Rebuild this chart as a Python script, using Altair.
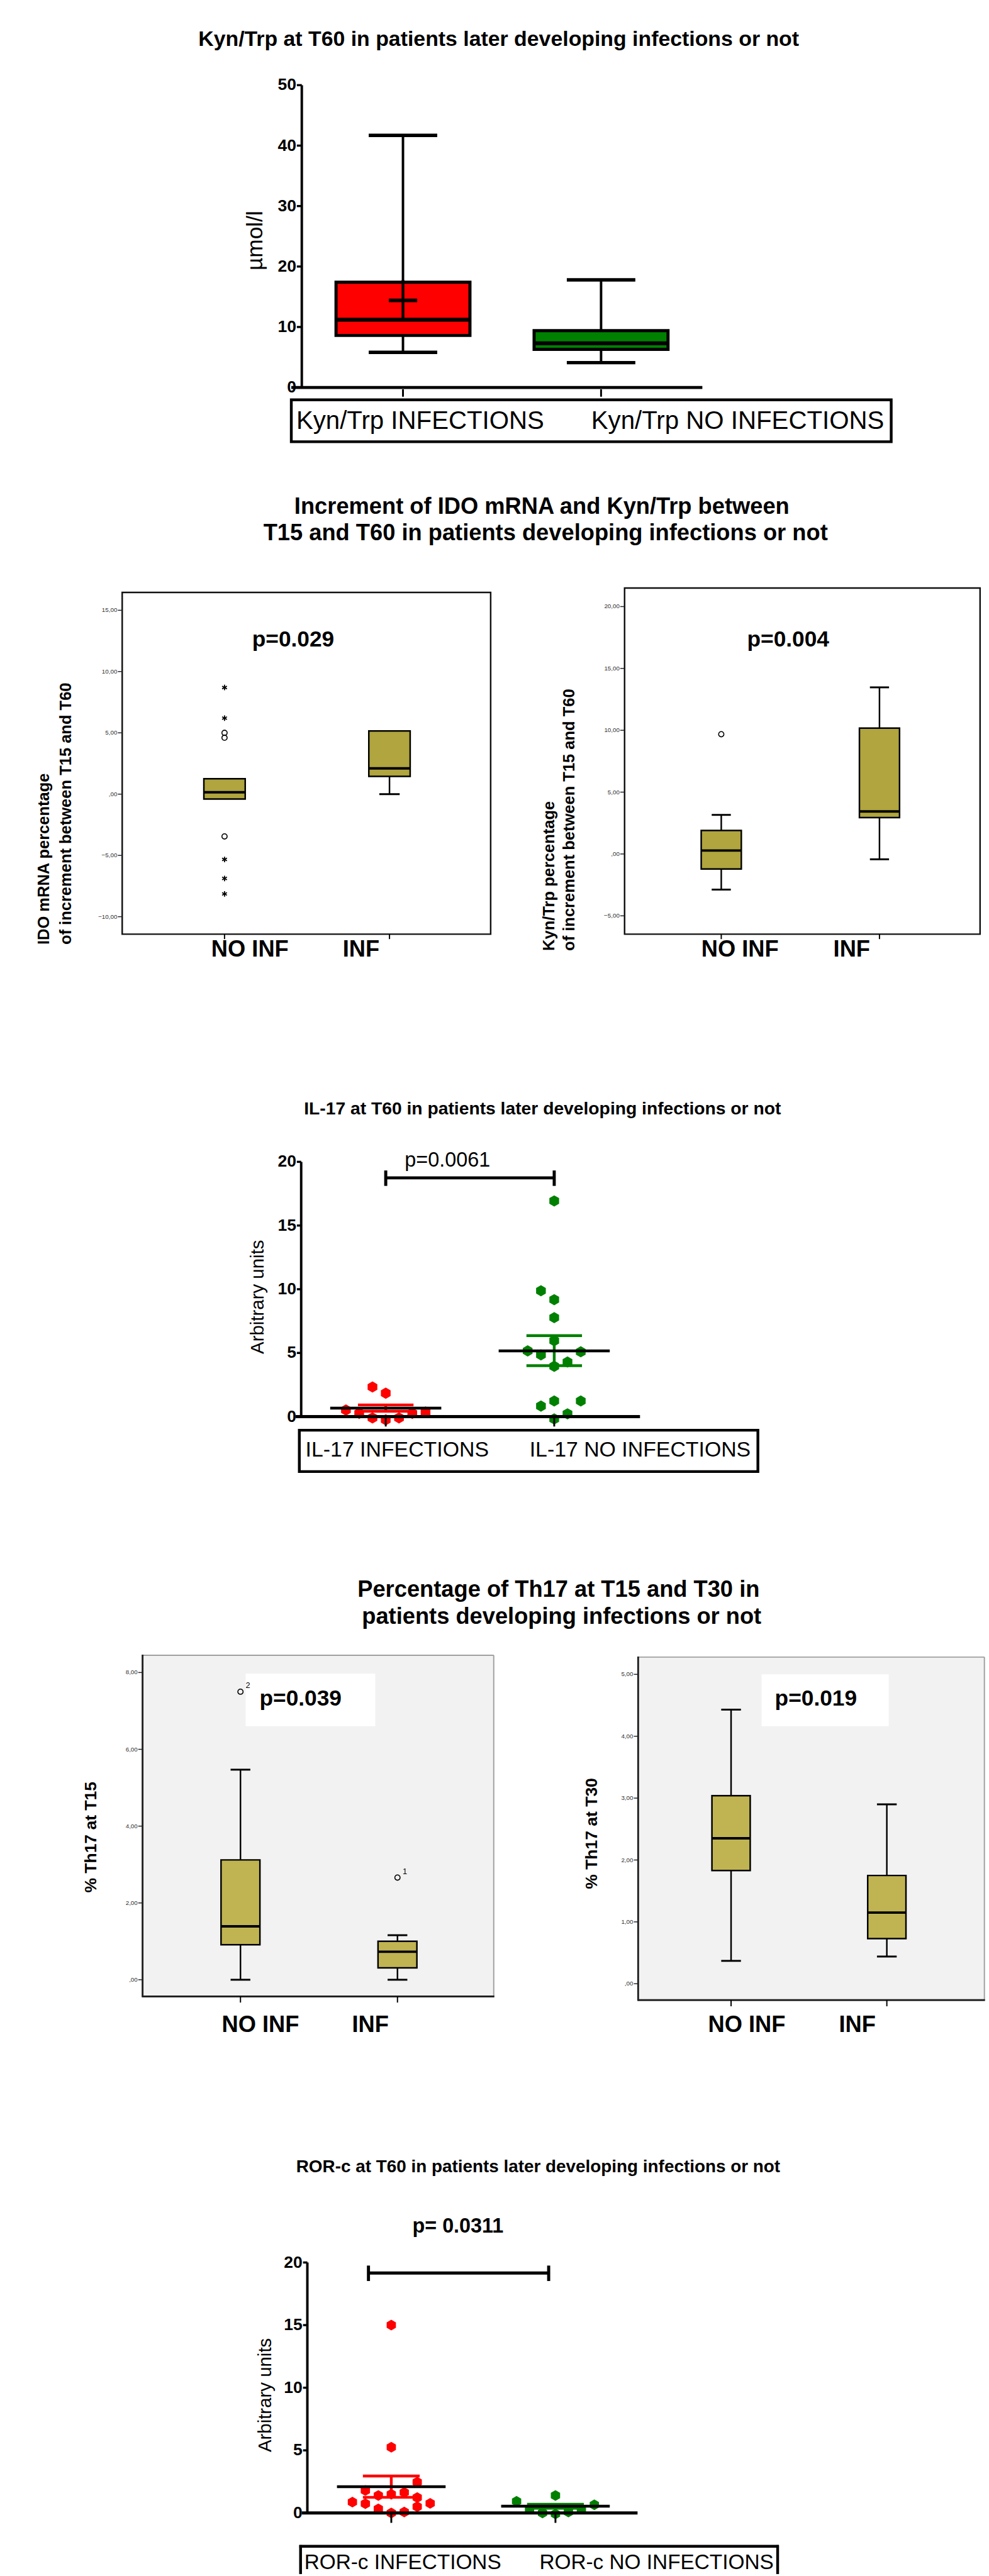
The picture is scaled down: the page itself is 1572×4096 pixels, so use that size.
import altair as alt
import pandas as pd

S = 0.981
SANS = "Liberation Sans, Arial, Helvetica, sans-serif"
RED = "#ff0000"
GREEN = "#008000"
OLIVE_A = "#B0A53E"
OLIVE_B = "#C0B452"
PANEL_BG = "#F2F2F2"
HEX = "M0,-1L0.866,-0.5L0.866,0.5L0,1L-0.866,0.5L-0.866,-0.5Z"
STAR = "M0,-1L0,1M-0.866,-0.5L0.866,0.5M-0.866,0.5L0.866,-0.5"

# ------------------------------------------------------------------ data
# Panel 1: Kyn/Trp at T60 (umol/l) - box and whiskers
kyn_groups = ["Kyn/Trp INFECTIONS", "Kyn/Trp NO INFECTIONS"]
kyn_min = [5.8, 4.1]
kyn_q1 = [8.6, 6.3]
kyn_med = [11.2, 7.3]
kyn_q3 = [17.4, 9.4]
kyn_max = [41.7, 17.8]
kyn_mean = [14.4]          # "+" only drawn for INFECTIONS
kyn_ticks = [0, 10, 20, 30, 40, 50]

# Panel 2: increment between T15 and T60
inc_groups = ["NO INF", "INF"]
ido_min = [-0.4, 0.0]
ido_q1 = [-0.4, 1.45]
ido_med = [0.15, 2.1]
ido_q3 = [1.25, 5.15]
ido_max = [1.25, 5.15]
ido_out_circle = [5.0, 4.6, -3.45]              # NO INF outliers
ido_out_star = [8.7, 6.2, -5.33, -6.88, -8.14]  # NO INF extremes
ido_ticks = [-10, -5, 0, 5, 10, 15]

kt_min = [-2.88, -0.43]
kt_q1 = [-1.21, 2.94]
kt_med = [0.28, 3.44]
kt_q3 = [1.9, 10.17]
kt_max = [3.16, 13.47]
kt_out_circle = [9.68]                           # NO INF outlier
kt_ticks = [-5, 0, 5, 10, 15, 20]

# Panel 3: IL-17 at T60 (arbitrary units)
il17_groups = ["IL-17 INFECTIONS", "IL-17 NO INFECTIONS"]
il17_inf = [2.33, 1.84, 0.52, 0.26, -0.1, -0.25, -0.1, 0.26, 0.36]
il17_inf_slot = [-1, 0, -3, -2, -1, 0, 1, 2, 3]
il17_no = [16.93, 9.88, 9.18, 7.77, 5.96, 5.16, 4.85, 5.09, 3.95, 4.29, 0.83, 1.23, 1.23, -0.18, 0.22]
il17_no_slot = [0, -1, 0, 0, 0, -2, -1, 2, 0, 1, -1, 0, 2, 0, 1]
il17_mean = [0.67, 5.16]
il17_sem_lo = [0.42, 4.0]
il17_sem_hi = [0.92, 6.36]
dot_ticks = [0, 5, 10, 15, 20]

# Panel 4: % Th17 at T15 / T30
th15_min = [0.0, 0.0]
th15_q1 = [0.91, 0.31]
th15_med = [1.39, 0.73]
th15_q3 = [3.12, 1.0]
th15_max = [5.47, 1.16]
th15_out = [7.5, 2.66]
th15_out_group = [0, 1]
th15_out_label = ["2", "1"]
th15_ticks = [0, 2, 4, 6, 8]

th30_min = [0.37, 0.44]
th30_q1 = [1.83, 0.73]
th30_med = [2.35, 1.15]
th30_q3 = [3.04, 1.75]
th30_max = [4.43, 2.9]
th30_ticks = [0, 1, 2, 3, 4, 5]

# Panel 5: ROR-c at T60 (arbitrary units)
ror_groups = ["ROR-c INFECTIONS", "ROR-c NO INFECTIONS"]
ror_inf = [15.0, 5.25, 2.46, 1.8, 1.4, 1.5, 1.64, 1.23, 0.87, 0.74, 0.33, 0.0, 0.08, 0.5, 0.77]
ror_inf_slot = [0, 0, 2, -2, -1, 0, 1, 2, -3, -2, -1, 0, 1, 2, 3]
ror_no = [0.93, 1.4, 0.65, 0.33, 0.0, -0.08, 0.08, 0.33]
ror_no_slot = [-3, 0, 3, -2, -1, 0, 1, 2]
ror_mean = [2.1, 0.54]
ror_sem_lo = [1.25, 0.38]
ror_sem_hi = [2.95, 0.7]


# ------------------------------------------------------------------ helpers
def lin(v1, p1, v2, p2):
    k = (v2 - v1) / (p2 - p1)
    return lambda p: v1 + (p - p1) * k


class Panel:
    """One panel drawn inside a full-width row; positions in reference pixels."""
    def __init__(self, top, bottom, xmap, ymap, left=0, right=1602):
        self.l, self.r, self.t, self.b = left, right, top, bottom
        fx, fy = lin(*xmap), lin(*ymap)
        self.xdom = [fx(left), fx(right)]
        self.ydom = [fy(bottom), fy(top)]
        self.W = (right - left) * S
        self.H = (bottom - top) * S
        self.layers = []

    def X(self, f):
        return alt.X(field=f, type="quantitative",
                     scale=alt.Scale(domain=self.xdom, nice=False, zero=False), axis=None)

    def Y(self, f):
        return alt.Y(field=f, type="quantitative",
                     scale=alt.Scale(domain=self.ydom, nice=False, zero=False), axis=None)

    def px(self, x):
        return (x - self.l) * S

    def py(self, y):
        return (y - self.t) * S

    def add(self, *items):
        for it in items:
            if isinstance(it, list):
                self.layers.extend(it)
            else:
                self.layers.append(it)

    def layer(self):
        return alt.layer(*self.layers)

    def chart(self):
        return alt.layer(*self.layers).properties(width=self.W, height=self.H)


def combo(Pa, Pb):
    return alt.layer(Pa.layer(), Pb.layer()).resolve_scale(
        x="independent", y="independent").properties(width=Pa.W, height=Pa.H)


def T(P, s, x, y, size, weight="normal", align="center", angle=0, color="black"):
    kw = dict(font=SANS, fontSize=size * S, fontWeight=weight, align=align,
              baseline="middle", color=color)
    if angle:
        kw["angle"] = angle
    return alt.Chart().mark_text(**kw).encode(
        x=alt.value(P.px(x)), y=alt.value(P.py(y)), text=alt.value(s))


def RECT(P, x1, y1, x2, y2, fill="white", fill_op=1.0, stroke="black", sw=0.0):
    kw = dict(fill=fill, fillOpacity=fill_op, stroke=stroke, strokeWidth=sw * S)
    return alt.Chart().mark_rect(**kw).encode(
        x=alt.value(P.px(x1)), x2=alt.value(P.px(x2)),
        y=alt.value(P.py(y1)), y2=alt.value(P.py(y2)))


def HL(P, x1, x2, y, color="black", sw=2.0):
    return alt.Chart().mark_rule(color=color, strokeWidth=sw * S).encode(
        x=alt.value(P.px(x1)), x2=alt.value(P.px(x2)), y=alt.value(P.py(y)))


def VLINE(P, x, y1, y2, color="black", sw=2.0):
    return alt.Chart().mark_rule(color=color, strokeWidth=sw * S).encode(
        x=alt.value(P.px(x)), y=alt.value(P.py(y1)), y2=alt.value(P.py(y2)))


def HLv(P, x1, x2, v, color="black", sw=2.0):
    return alt.Chart(pd.DataFrame({"v": [v]})).mark_rule(color=color, strokeWidth=sw * S).encode(
        x=alt.value(P.px(x1)), x2=alt.value(P.px(x2)), y=P.Y("v"))


def xticks(P, n, y1, y2, sw, color="black"):
    df = pd.DataFrame({"g": list(range(n))})
    return alt.Chart(df).mark_rule(color=color, strokeWidth=sw * S).encode(
        x=P.X("g"), y=alt.value(P.py(y1)), y2=alt.value(P.py(y2)))


def gp_yaxis(P, axis_x, vals, lw=4.0, tick=8, size=27):
    rng = pd.DataFrame({"lo": [min(vals)], "hi": [max(vals)]})
    tk = pd.DataFrame({"v": vals})
    line = alt.Chart(rng).mark_rule(color="black", strokeWidth=lw * S).encode(
        x=alt.value(P.px(axis_x)), y=P.Y("lo"), y2="hi")
    ticks = alt.Chart(tk).mark_rule(color="black", strokeWidth=3.5 * S).encode(
        x=alt.value(P.px(axis_x - tick)), x2=alt.value(P.px(axis_x)), y=P.Y("v"))
    labels = alt.Chart(tk).mark_text(font=SANS, fontSize=size * S, fontWeight="bold",
                                     align="right", baseline="middle", color="black").encode(
        x=alt.value(P.px(axis_x - tick - 1)), y=P.Y("v"), text=alt.Text("v:Q", format="d"))
    return [line, ticks, labels]


def spss_yaxis(P, axis_x, vals):
    tk = pd.DataFrame({"v": vals})
    ticks = alt.Chart(tk).mark_rule(color="#222222", strokeWidth=1.5 * S).encode(
        x=alt.value(P.px(axis_x - 7)), x2=alt.value(P.px(axis_x)), y=P.Y("v"))
    labels = alt.Chart(tk).transform_calculate(
        lab="datum.v == 0 ? ',00' : replace(format(datum.v, '.2f'), '.', ',')").mark_text(
        font=SANS, fontSize=10 * S, align="right", baseline="middle", color="#333333").encode(
        x=alt.value(P.px(axis_x - 8)), y=P.Y("v"), text="lab:N")
    return [ticks, labels]


def boxes(P, lo, q1, med, q3, hi, width, fills, sw, medw, capw, capsw, whw):
    n = len(q1)
    df = pd.DataFrame({"g": list(range(n)), "lo": lo, "q1": q1,
                       "med": med, "q3": q3, "hi": hi})
    base = alt.Chart(df)
    up = base.transform_filter("datum.hi > datum.q3").mark_rule(
        color="black", strokeWidth=whw * S).encode(x=P.X("g"), y=P.Y("q3"), y2="hi")
    dn = base.transform_filter("datum.lo < datum.q1").mark_rule(
        color="black", strokeWidth=whw * S).encode(x=P.X("g"), y=P.Y("lo"), y2="q1")
    capu = base.transform_filter("datum.hi > datum.q3").mark_tick(
        orient="horizontal", size=capw * S, thickness=capsw * S, color="black",
        opacity=1).encode(x=P.X("g"), y=P.Y("hi"))
    capd = base.transform_filter("datum.lo < datum.q1").mark_tick(
        orient="horizontal", size=capw * S, thickness=capsw * S, color="black",
        opacity=1).encode(x=P.X("g"), y=P.Y("lo"))
    out = [up, dn, capu, capd]
    for i in range(n):
        out.append(base.transform_filter(f"datum.g == {i}").mark_bar(
            orient="vertical", size=width * S, fill=fills[i], stroke="black",
            strokeWidth=sw * S, opacity=1).encode(x=P.X("g"), y=P.Y("q1"), y2="q3"))
    out.append(base.mark_tick(orient="horizontal", size=width * S, thickness=medw * S,
                              color="black", opacity=1).encode(x=P.X("g"), y=P.Y("med")))
    return out


def dots(P, vals, slots, g, color, slotw, size):
    df = pd.DataFrame({"v": vals, "slot": slots})
    df["g"] = g
    return alt.Chart(df).transform_calculate(
        xj=f"datum.g + datum.slot * {slotw}").mark_point(
        shape=HEX, filled=True, size=size, color=color, opacity=1, strokeWidth=0).encode(
        x=P.X("xj"), y=P.Y("v"))


def meansem(P, mean, lo, hi, meanw, semw, colors, lw):
    n = len(mean)
    df = pd.DataFrame({"g": list(range(n)), "m": mean, "lo": lo, "hi": hi})
    base = alt.Chart(df)
    out = []
    for i in range(n):
        b = base.transform_filter(f"datum.g == {i}")
        out.append(b.mark_rule(strokeWidth=lw * S, color=colors[i]).encode(
            x=P.X("g"), y=P.Y("lo"), y2="hi"))
        out.append(b.mark_tick(orient="horizontal", size=semw * S, thickness=lw * S,
                               color=colors[i], opacity=1).encode(x=P.X("g"), y=P.Y("hi")))
        out.append(b.mark_tick(orient="horizontal", size=semw * S, thickness=lw * S,
                               color=colors[i], opacity=1).encode(x=P.X("g"), y=P.Y("lo")))
    return out


def meanline(P, mean, meanw, lw):
    df = pd.DataFrame({"g": list(range(len(mean))), "m": mean})
    return alt.Chart(df).mark_tick(orient="horizontal", size=meanw * S, thickness=lw * S,
                                   color="black", opacity=1).encode(x=P.X("g"), y=P.Y("m"))


def outliers(P, vals, g, kind):
    df = pd.DataFrame({"v": vals})
    df["g"] = g
    if kind == "star":
        mk = alt.Chart(df).mark_point(shape=STAR, filled=False, stroke="black",
                                      strokeWidth=1.8 * S, size=(9 * S) ** 2, opacity=1)
    else:
        mk = alt.Chart(df).mark_point(shape="circle", filled=False, stroke="black",
                                      strokeWidth=1.6 * S, size=(8.5 * S) ** 2, opacity=1)
    return mk.encode(x=P.X("g"), y=P.Y("v"))


# ------------------------------------------------------------------ Row 1: Kyn/Trp
P1 = Panel(0, 745, (0, 652, 1, 975), (0, 628, 50, 138))
P1.add(
    T(P1, "Kyn/Trp at  T60 in patients later developing infections or not", 808, 64, 34.5, weight="bold"),
    boxes(P1, kyn_min, kyn_q1, kyn_med, kyn_q3, kyn_max, 217, [RED, GREEN], 5, 6.5, 111, 5.5, 4),
    alt.Chart(pd.DataFrame({"m": kyn_mean, "g": [0]})).mark_tick(
        orient="horizontal", size=46 * S, thickness=6 * S, color="black", opacity=1).encode(
        x=P1.X("g"), y=P1.Y("m")),
    alt.Chart(pd.DataFrame({"m": kyn_mean, "g": [0]})).mark_tick(
        orient="vertical", size=66 * S, thickness=4.5 * S, color="black", opacity=1).encode(
        x=P1.X("g"), y=P1.Y("m")),
    gp_yaxis(P1, 489, kyn_ticks, 4),
    HLv(P1, 472, 1138, 0, sw=5),
    xticks(P1, 2, 631, 643, 3),
    T(P1, "µmol/l", 414, 390, 36, angle=270),
    RECT(P1, 472, 648, 1444, 716, fill_op=0, sw=4.5),
    T(P1, kyn_groups[0], 480, 683, 41, align="left"),
    T(P1, kyn_groups[1], 958, 683, 41, align="left"),
)

# ------------------------------------------------------------------ Row 2: increments
P2a = Panel(745, 1640, (0, 361, 1, 630), (0, 1287, 15, 989))
P2a.add(
    T(P2a, "Increment of IDO mRNA and Kyn/Trp between", 878, 821, 37, weight="bold"),
    T(P2a, "T15 and T60 in patients developing infections or not", 884, 864, 37, weight="bold"),
    RECT(P2a, 198, 960, 795, 1514, fill_op=0, stroke="#111111", sw=2.5),
    spss_yaxis(P2a, 198, ido_ticks),
    xticks(P2a, 2, 1514, 1522, 2),
    boxes(P2a, ido_min, ido_q1, ido_med, ido_q3, ido_max, 67, [OLIVE_A, OLIVE_A], 2.5, 4, 33, 3, 2.5),
    outliers(P2a, ido_out_circle, 0, "circle"),
    outliers(P2a, ido_out_star, 0, "star"),
    T(P2a, "p=0.029", 475, 1037, 36, weight="bold"),
    T(P2a, inc_groups[0], 405, 1539, 37, weight="bold"),
    T(P2a, inc_groups[1], 585, 1539, 37, weight="bold"),
    T(P2a, "IDO mRNA percentage", 71, 1531, 26, weight="bold", align="left", angle=270),
    T(P2a, "of increment between T15 and T60", 107, 1531, 26, weight="bold", align="left", angle=270),
)

P2b = Panel(745, 1640, (0, 1171, 1, 1429), (0, 1384, 20, 983))
P2b.add(
    RECT(P2b, 1012, 953, 1588, 1514, fill_op=0, stroke="#111111", sw=2.5),
    spss_yaxis(P2b, 1012, kt_ticks),
    xticks(P2b, 2, 1514, 1522, 2),
    boxes(P2b, kt_min, kt_q1, kt_med, kt_q3, kt_max, 65, [OLIVE_A, OLIVE_A], 2.5, 4, 31, 3, 2.5),
    outliers(P2b, kt_out_circle, 0, "circle"),
    T(P2b, "p=0.004", 1277, 1037, 36, weight="bold"),
    T(P2b, inc_groups[0], 1199, 1539, 37, weight="bold"),
    T(P2b, inc_groups[1], 1380, 1539, 37, weight="bold"),
    T(P2b, "Kyn/Trp percentage", 890, 1541, 26, weight="bold", align="left", angle=270),
    T(P2b, "of increment between T15 and T60", 923, 1541, 26, weight="bold", align="left", angle=270),
)

# ------------------------------------------------------------------ Row 3: IL-17
P3 = Panel(1640, 2520, (0, 625, 1, 898), (0, 2296, 20, 1883))
slot3 = 21.5 / (898 - 625)
P3.add(
    T(P3, "IL-17 at  T60 in patients later developing infections or not", 879, 1798, 28.8, weight="bold"),
    meansem(P3, il17_mean, il17_sem_lo, il17_sem_hi, 180, 90, [RED, GREEN], 4.5),
    dots(P3, il17_inf, il17_inf_slot, 0, RED, slot3, 330 * S * S),
    dots(P3, il17_no, il17_no_slot, 1, GREEN, slot3, 330 * S * S),
    meanline(P3, il17_mean, 180, 4.5),
    gp_yaxis(P3, 488, dot_ticks, 4, tick=7),
    HLv(P3, 479, 1037, 0, sw=5),
    xticks(P3, 2, 2298, 2312, 3),
    T(P3, "Arbitrary units", 418, 2102, 30, angle=270),
    HL(P3, 625, 898, 1909, sw=5),
    VLINE(P3, 625, 1897, 1922, sw=5),
    VLINE(P3, 898, 1897, 1922, sw=5),
    T(P3, "p=0.0061", 725, 1881, 33),
    RECT(P3, 485, 2318, 1228, 2385, fill_op=0, sw=4.5),
    T(P3, il17_groups[0], 495, 2351, 34.5, align="left"),
    T(P3, il17_groups[1], 858, 2351, 34.5, align="left"),
)

# ------------------------------------------------------------------ Row 4: Th17
P4a = Panel(2520, 3430, (0, 387, 1, 643), (0, 3208, 8, 2710))
P4a.add(
    T(P4a, "Percentage of Th17 at T15 and T30 in", 905, 2576, 37, weight="bold"),
    T(P4a, "patients developing infections or not", 910, 2620, 37, weight="bold"),
    RECT(P4a, 231, 2682, 800, 3235, fill=PANEL_BG, sw=0),
    HL(P4a, 231, 800, 2682, color="#A0A0A0", sw=2),
    VLINE(P4a, 800, 2682, 3235, color="#A0A0A0", sw=2),
    VLINE(P4a, 231, 2681, 3236, color="#222222", sw=3),
    HL(P4a, 230, 801, 3235, color="#222222", sw=3),
    RECT(P4a, 398, 2712, 608, 2797, fill="white", sw=0),
    spss_yaxis(P4a, 231, th15_ticks),
    xticks(P4a, 2, 3235, 3245, 2),
    boxes(P4a, th15_min, th15_q1, th15_med, th15_q3, th15_max, 63, [OLIVE_B, OLIVE_B], 2.5, 4, 32, 3, 2.5),
    outliers(P4a, th15_out, th15_out_group, "circle"),
    alt.Chart(pd.DataFrame({"v": th15_out, "g": th15_out_group, "lab": th15_out_label})).mark_text(
        font=SANS, fontSize=13 * S, dx=12 * S, dy=-10 * S, color="black").encode(
        x=P4a.X("g"), y=P4a.Y("v"), text="lab:N"),
    T(P4a, "p=0.039", 487, 2752, 36, weight="bold"),
    T(P4a, inc_groups[0], 422, 3281, 37, weight="bold"),
    T(P4a, inc_groups[1], 600, 3281, 37, weight="bold"),
    T(P4a, "% Th17 at T15", 148, 2977, 27, weight="bold", angle=270),
)

P4b = Panel(2520, 3430, (0, 1187, 1, 1441), (0, 3214.5, 5, 2713))
P4b.add(
    RECT(P4b, 1034, 2685, 1595, 3241, fill=PANEL_BG, sw=0),
    HL(P4b, 1034, 1595, 2685, color="#A0A0A0", sw=2),
    VLINE(P4b, 1595, 2685, 3241, color="#A0A0A0", sw=2),
    VLINE(P4b, 1034, 2684, 3242, color="#222222", sw=3),
    HL(P4b, 1033, 1596, 3241, color="#222222", sw=3),
    RECT(P4b, 1234, 2713, 1440, 2797, fill="white", sw=0),
    spss_yaxis(P4b, 1034, th30_ticks),
    xticks(P4b, 2, 3241, 3251, 2),
    boxes(P4b, th30_min, th30_q1, th30_med, th30_q3, th30_max, 62, [OLIVE_B, OLIVE_B], 2.5, 4, 32, 3, 2.5),
    T(P4b, "p=0.019", 1322, 2752, 36, weight="bold"),
    T(P4b, inc_groups[0], 1210, 3281, 37, weight="bold"),
    T(P4b, inc_groups[1], 1389, 3281, 37, weight="bold"),
    T(P4b, "% Th17 at T30", 959, 2971, 27, weight="bold", angle=270),
)

# ------------------------------------------------------------------ Row 5: ROR-c
P5 = Panel(3430, 4175, (0, 634, 1, 900), (0, 4072, 20, 3666))
slot5 = 21.0 / (900 - 634)
P5.add(
    T(P5, "ROR-c at  T60 in patients later developing infections or not", 872, 3512, 28.4, weight="bold"),
    meansem(P5, ror_mean, ror_sem_lo, ror_sem_hi, 176, 92, [RED, GREEN], 4.5),
    dots(P5, ror_inf, ror_inf_slot, 0, RED, slot5, 300 * S * S),
    dots(P5, ror_no, ror_no_slot, 1, GREEN, slot5, 300 * S * S),
    meanline(P5, ror_mean, 176, 4.5),
    gp_yaxis(P5, 498, dot_ticks, 4, tick=7),
    HLv(P5, 489, 1033, 0, sw=5),
    xticks(P5, 2, 4074, 4088, 3),
    T(P5, "Arbitrary units", 430, 3881, 30, angle=270),
    HL(P5, 597, 889, 3683, sw=5),
    VLINE(P5, 597, 3671, 3696, sw=5),
    VLINE(P5, 889, 3671, 3696, sw=5),
    T(P5, "p= 0.0311", 742, 3607, 33, weight="bold"),
    HL(P5, 485, 1262, 4126, sw=4.5),
    VLINE(P5, 487, 4124, 4171, sw=4.5),
    VLINE(P5, 1260, 4124, 4171, sw=4.5),
    T(P5, ror_groups[0], 493, 4153, 34, align="left"),
    T(P5, ror_groups[1], 874, 4153, 34, align="left"),
)

chart = alt.vconcat(P1.chart(), combo(P2a, P2b), P3.chart(), combo(P4a, P4b), P5.chart(),
                    spacing=0, bounds="flush").properties(padding=0, background="white")
chart = chart.configure_view(strokeWidth=0)

chart.save("out.html", embed_options={"renderer": "svg", "actions": False})
